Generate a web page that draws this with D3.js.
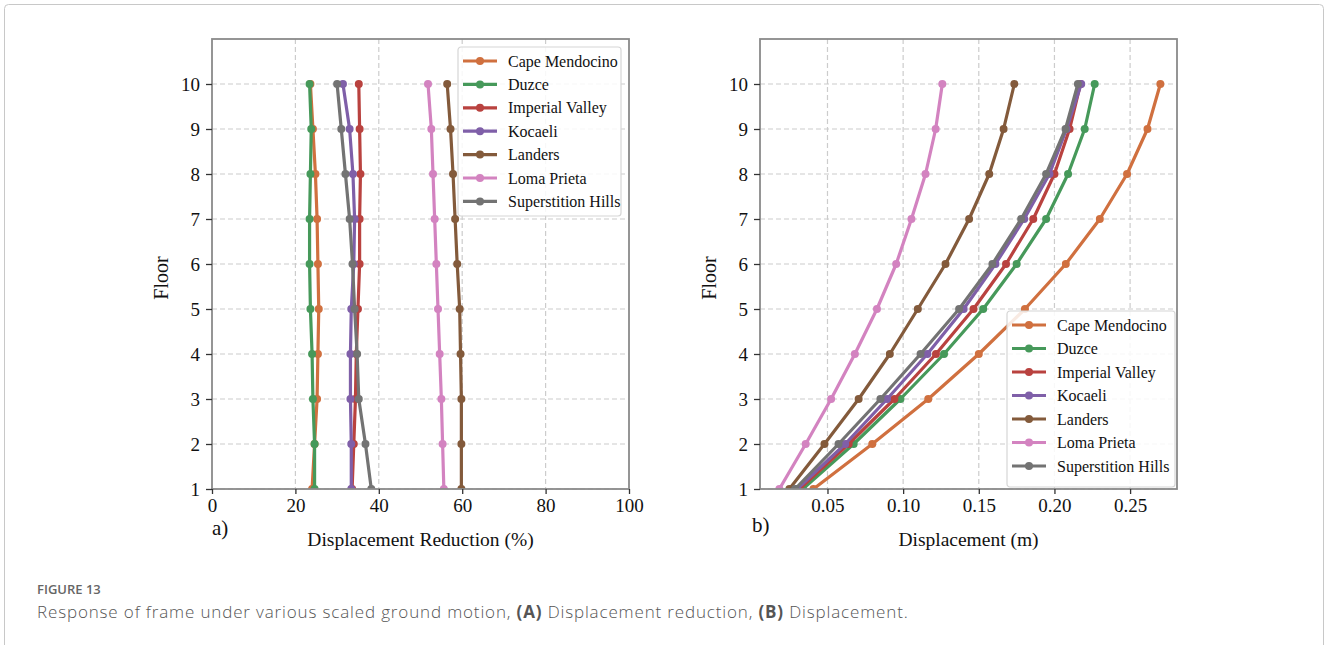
<!DOCTYPE html>
<html>
<head>
<meta charset="utf-8">
<script src="https://cdn.jsdelivr.net/npm/d3@7"></script>
<style>
  body { margin: 0; background: #fff; }
  svg { display: block; }
</style>
</head>
<body>
<div id="chart"></div>
<script>
// data, floor 1 -> 10
const floors = [1, 2, 3, 4, 5, 6, 7, 8, 9, 10];
const quakes = ["Cape Mendocino", "Duzce", "Imperial Valley", "Kocaeli", "Landers", "Loma Prieta", "Superstition Hills"];
const colors = ["#d0703f", "#46995a", "#b9423f", "#7f5fa8", "#835a3b", "#d383c0", "#737373"];

// panel a) displacement reduction (%)
const redCape = [24.0, 24.6, 25.2, 25.4, 25.6, 25.4, 25.2, 24.8, 24.2, 23.6];
const redDuzce = [24.6, 24.6, 24.2, 24.0, 23.6, 23.4, 23.4, 23.6, 23.8, 23.4];
const redImperial = [33.6, 34.0, 34.4, 34.6, 35.0, 35.4, 35.4, 35.6, 35.4, 35.2];
const redKocaeli = [33.4, 33.4, 33.2, 33.2, 33.4, 34.0, 34.2, 33.8, 33.0, 31.4];
const redLanders = [59.8, 59.8, 59.8, 59.6, 59.4, 58.8, 58.3, 57.8, 57.2, 56.4];
const redLoma = [55.6, 55.3, 55.0, 54.6, 54.2, 53.8, 53.4, 53.0, 52.6, 51.8];
const redSuper = [38.2, 36.8, 35.2, 34.8, 34.2, 33.7, 33.0, 32.0, 31.0, 30.0];

// panel b) displacement (m)
const dispCape = [0.0407, 0.0796, 0.1166, 0.150, 0.1805, 0.2075, 0.230, 0.248, 0.2615, 0.270];
const dispDuzce = [0.0337, 0.0673, 0.0982, 0.127, 0.1529, 0.175, 0.1945, 0.209, 0.220, 0.2266];
const dispImperial = [0.0315, 0.064, 0.0942, 0.1217, 0.1465, 0.168, 0.186, 0.200, 0.210, 0.2172];
const dispKocaeli = [0.030, 0.0617, 0.0894, 0.116, 0.140, 0.161, 0.180, 0.1967, 0.208, 0.2177];
const dispLanders = [0.0248, 0.048, 0.0706, 0.0912, 0.1097, 0.128, 0.1436, 0.1569, 0.1664, 0.1735];
const dispLoma = [0.0182, 0.0356, 0.0524, 0.0681, 0.0827, 0.0954, 0.1055, 0.1148, 0.1215, 0.1259];
const dispSuper = [0.0286, 0.0573, 0.085, 0.1115, 0.137, 0.159, 0.178, 0.1945, 0.2073, 0.2155];

const xTicksA = [0, 20, 40, 60, 80, 100];
const xTicksB = [0.05, 0.10, 0.15, 0.20, 0.25];

const W = 1328, H = 645;
const serif = "'Liberation Serif', 'Times New Roman', serif";

const svg = d3.select("#chart").append("svg")
    .attr("width", W)
    .attr("height", H);

// card outline
svg.append("rect")
    .attr("x", 4.5).attr("y", 4.5)
    .attr("width", W - 9).attr("height", H + 20)
    .attr("rx", 4)
    .attr("fill", "none")
    .attr("stroke", "#c8c8c8");

function panel(opts) {
    const { left, right, top, bottom, xDomain, xTicks, xFormat, series, legend, tag, xLabel, id } = opts;

    let x = d3.scaleLinear().domain(xDomain).range([left, right]);
    let y = d3.scaleLinear().domain([1, 11]).range([bottom, top]);

    let g = svg.append("g");

    g.append("clipPath").attr("id", id)
        .append("rect")
        .attr("x", left).attr("y", top)
        .attr("width", right - left).attr("height", bottom - top);

    // grid
    g.append("g").selectAll("line.vx").data(xTicks.filter(t => t > xDomain[0] && t < xDomain[1]))
        .enter().append("line")
        .attr("x1", d => x(d)).attr("x2", d => x(d))
        .attr("y1", top).attr("y2", bottom)
        .attr("stroke", "#cccccc").attr("stroke-width", 1.2)
        .attr("stroke-dasharray", "5,3");
    g.append("g").selectAll("line").data(floors)
        .enter().append("line")
        .attr("x1", left).attr("x2", right)
        .attr("y1", d => y(d)).attr("y2", d => y(d))
        .attr("stroke", "#cccccc").attr("stroke-width", 1.2)
        .attr("stroke-dasharray", "5,3");

    // lines + markers
    let line = d3.line().x(d => x(d.v)).y(d => y(d.f));
    let plot = g.append("g").attr("clip-path", `url(#${id})`);
    series.forEach(function(vals, i) {
        let pts = vals.map((v, k) => ({ v: v, f: floors[k] }));
        plot.append("path")
            .datum(pts)
            .attr("d", line)
            .attr("fill", "none")
            .attr("stroke", colors[i])
            .attr("stroke-width", 3.2)
            .attr("stroke-linejoin", "round");
        plot.selectAll(null).data(pts).enter().append("circle")
            .attr("cx", d => x(d.v)).attr("cy", d => y(d.f))
            .attr("r", 4)
            .attr("fill", colors[i]);
    });

    // frame
    g.append("rect")
        .attr("x", left).attr("y", top)
        .attr("width", right - left).attr("height", bottom - top)
        .attr("fill", "none")
        .attr("stroke", "#8a8a8a").attr("stroke-width", 1.8);

    // axes
    let xAxis = g.append("g")
        .attr("transform", `translate(0, ${bottom})`)
        .call(d3.axisBottom(x).tickValues(xTicks).tickFormat(xFormat).tickSize(5).tickPadding(5));
    let yAxis = g.append("g")
        .attr("transform", `translate(${left}, 0)`)
        .call(d3.axisLeft(y).tickValues(floors).tickFormat(d3.format("d")).tickSize(6).tickPadding(6));
    [xAxis, yAxis].forEach(function(a) {
        a.attr("font-size", null);
        a.select(".domain").remove();
        a.selectAll(".tick line").attr("stroke", "#333").attr("stroke-width", 1.3);
        a.selectAll(".tick text")
            .attr("fill", "#111")
            .style("font-family", serif)
            .style("font-size", "19px");
    });

    // labels
    g.append("text")
        .attr("x", (left + right) / 2).attr("y", bottom + 57)
        .attr("text-anchor", "middle")
        .style("font-family", serif).style("font-size", "19.5px").attr("fill", "#111")
        .text(xLabel);
    g.append("text")
        .attr("transform", `translate(${left - 44}, ${(top + bottom) / 2 + 14}) rotate(-90)`)
        .attr("text-anchor", "middle")
        .style("font-family", serif).style("font-size", "20px").attr("fill", "#111")
        .text("Floor");
    g.append("text")
        .attr("x", tag.x).attr("y", tag.y)
        .style("font-family", serif).style("font-size", "21px").attr("fill", "#111")
        .text(tag.text);

    // legend
    let lg = g.append("g").attr("transform", `translate(${legend.x}, ${legend.y})`);
    lg.append("rect")
        .attr("x", 0).attr("y", 0)
        .attr("width", legend.w).attr("height", legend.h)
        .attr("rx", 3)
        .attr("fill", "#fff").attr("fill-opacity", 0.85)
        .attr("stroke", "#d6d6d6").attr("stroke-width", 1.2);
    quakes.forEach(function(name, i) {
        let ly = 14 + i * legend.step;
        lg.append("line")
            .attr("x1", 5).attr("x2", 39)
            .attr("y1", ly).attr("y2", ly)
            .attr("stroke", colors[i]).attr("stroke-width", 3.2);
        lg.append("circle")
            .attr("cx", 22).attr("cy", ly).attr("r", 4)
            .attr("fill", colors[i]);
        lg.append("text")
            .attr("x", 50).attr("y", ly + 5.5)
            .style("font-family", serif).style("font-size", "16px").attr("fill", "#111")
            .text(name);
    });
}

panel({
    id: "clipA",
    left: 212, right: 629, top: 39, bottom: 489,
    xDomain: [0, 100], xTicks: xTicksA, xFormat: d3.format("d"),
    series: [redCape, redDuzce, redImperial, redKocaeli, redLanders, redLoma, redSuper],
    legend: { x: 458, y: 47, w: 163, h: 169, step: 23.4 },
    tag: { x: 212, y: 535, text: "a)" },
    xLabel: "Displacement Reduction (%)"
});

panel({
    id: "clipB",
    left: 760, right: 1177, top: 39, bottom: 489,
    xDomain: [0.0054, 0.281], xTicks: xTicksB, xFormat: d3.format(".2f"),
    series: [dispCape, dispDuzce, dispImperial, dispKocaeli, dispLanders, dispLoma, dispSuper],
    legend: { x: 1007, y: 311, w: 168, h: 176, step: 23.5 },
    tag: { x: 752, y: 532, text: "b)" },
    xLabel: "Displacement (m)"
});

// caption
svg.append("text")
    .attr("x", 37).attr("y", 594)
    .style("font-family", "'Open Sans', sans-serif")
    .style("font-size", "13px").style("font-weight", 600)
    .attr("fill", "#666")
    .text("FIGURE 13");

let cap = svg.append("text")
    .attr("x", 37).attr("y", 618)
    .style("font-family", "'Open Sans', sans-serif")
    .style("font-size", "17px").style("font-weight", 300)
    .style("letter-spacing", "0.85px")
    .attr("fill", "#555");
cap.append("tspan").text("Response of frame under various scaled ground motion, ");
cap.append("tspan").style("font-weight", 700).text("(A)");
cap.append("tspan").text(" Displacement reduction, ");
cap.append("tspan").style("font-weight", 700).text("(B)");
cap.append("tspan").text(" Displacement.");
</script>
</body>
</html>
